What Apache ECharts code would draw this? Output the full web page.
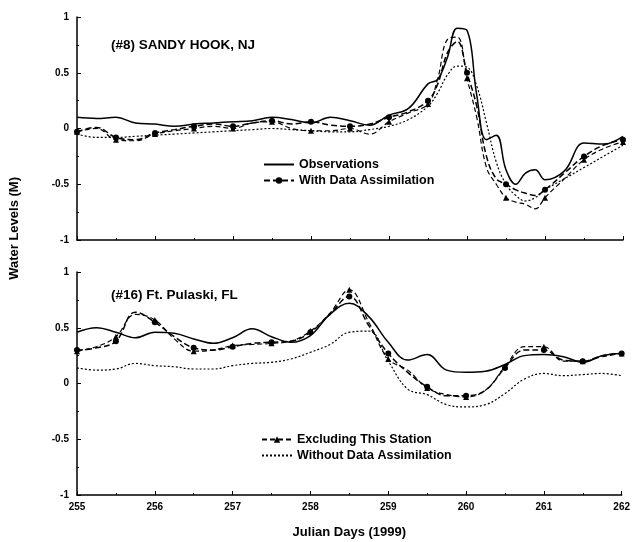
<!DOCTYPE html>
<html>
<head>
<meta charset="utf-8">
<script src="https://cdn.jsdelivr.net/npm/echarts@6/dist/echarts.min.js"></script>
<style>
  html, body { margin: 0; padding: 0; background: #fff; }
  #chart { width: 633px; height: 542px; }
</style>
</head>
<body>
<div id="chart"></div>
<script>
// top panel: Sandy Hook (denser sampling around the surge peak)
const topDays = [255, 255.25, 255.5, 255.75, 256, 256.25, 256.5, 256.75, 257, 257.25, 257.5, 257.75,
  258, 258.25, 258.5, 258.75, 259, 259.25, 259.5, 259.625, 259.75, 259.875, 260, 260.125, 260.25,
  260.375, 260.5, 260.625, 260.75, 260.875, 261, 261.25, 261.5, 261.75, 262];
const topObs = [0.10, 0.09, 0.10, 0.05, 0.04, 0.02, 0.04, 0.05, 0.06, 0.07, 0.10, 0.08,
  0.05, 0.10, 0.07, 0.03, 0.12, 0.18, 0.40, 0.44, 0.64, 0.90, 0.88, 0.30, -0.10,
  -0.06, -0.37, -0.50, -0.40, -0.37, -0.46, -0.38, -0.13, -0.14, -0.07];
const topWithDA = [-0.03, 0.01, -0.08, -0.10, -0.04, -0.01, 0.02, 0.04, 0.02, 0.05, 0.07, 0.04,
  0.06, 0.03, 0.02, 0.04, 0.10, 0.15, 0.25, 0.40, 0.68, 0.78, 0.50, 0.20, -0.25,
  -0.45, -0.50, -0.55, -0.58, -0.60, -0.55, -0.40, -0.25, -0.15, -0.10];
const topExcl = [-0.03, 0.00, -0.10, -0.11, -0.05, -0.02, 0.00, 0.02, 0.00, 0.05, 0.06, 0.00,
  -0.02, -0.02, 0.00, -0.05, 0.06, 0.14, 0.22, 0.45, 0.80, 0.82, 0.45, 0.10, -0.35,
  -0.50, -0.62, -0.66, -0.68, -0.72, -0.62, -0.45, -0.28, -0.18, -0.12];
const topNoDA = [-0.05, -0.08, -0.08, -0.07, -0.06, -0.05, -0.04, -0.03, -0.02, -0.01, 0.00, -0.01,
  -0.02, -0.03, -0.03, -0.01, 0.02, 0.08, 0.20, 0.32, 0.48, 0.56, 0.55, 0.38, 0.05,
  -0.30, -0.50, -0.60, -0.65, -0.62, -0.55, -0.45, -0.35, -0.25, -0.15];

// bottom panel: Ft. Pulaski
const botDays = [255, 255.25, 255.5, 255.75, 256, 256.25, 256.5, 256.75, 257, 257.25, 257.5, 257.75,
  258, 258.25, 258.5, 258.75, 259, 259.25, 259.5, 259.75, 260, 260.25, 260.5, 260.75,
  261, 261.25, 261.5, 261.75, 262];
const botObs = [0.46, 0.50, 0.46, 0.41, 0.46, 0.45, 0.40, 0.36, 0.41, 0.49, 0.42, 0.37,
  0.43, 0.62, 0.72, 0.60, 0.37, 0.21, 0.26, 0.12, 0.10, 0.11, 0.17, 0.25,
  0.26, 0.24, 0.19, 0.25, 0.27];
const botWithDA = [0.30, 0.32, 0.38, 0.64, 0.55, 0.42, 0.32, 0.30, 0.33, 0.36, 0.37, 0.38,
  0.46, 0.62, 0.78, 0.52, 0.27, 0.10, -0.03, -0.11, -0.11, -0.06, 0.14, 0.30,
  0.30, 0.21, 0.20, 0.25, 0.27];
const botExcl = [0.29, 0.33, 0.42, 0.62, 0.57, 0.40, 0.29, 0.30, 0.34, 0.35, 0.36, 0.38,
  0.47, 0.63, 0.84, 0.55, 0.22, 0.12, -0.04, -0.10, -0.12, -0.06, 0.15, 0.33,
  0.33, 0.20, 0.20, 0.24, 0.27];
const botNoDA = [0.14, 0.12, 0.13, 0.18, 0.16, 0.15, 0.13, 0.13, 0.16, 0.18, 0.19, 0.22,
  0.28, 0.35, 0.46, 0.47, 0.20, -0.05, -0.10, -0.19, -0.21, -0.19, -0.09, 0.04,
  0.09, 0.07, 0.08, 0.09, 0.07];

const yTicks = [-1, -0.5, 0, 0.5, 1];

const FONT = 'Liberation Sans';
const pairs = (days, vals) => days.map((d, i) => [d, vals[i]]);
// markers every half day
const markSize = (v) => ((v[0] * 2) % 1 === 0 ? 6 : 0);

function xAxisFor(grid, labels) {
  return {
    type: 'value', gridIndex: grid, min: 255, max: 262, interval: 1,
    name: labels ? 'Julian Days (1999)' : '', nameLocation: 'middle', nameGap: 31,
    nameTextStyle: { fontFamily: FONT, fontWeight: 'bold', fontSize: 13, color: '#000' },
    axisLine: { onZero: false, lineStyle: { color: '#000', width: 1.5 } },
    axisTick: { inside: true, length: 4, lineStyle: { color: '#000' } },
    minorTick: { show: true, splitNumber: 2, length: 2, lineStyle: { color: '#000' } },
    axisLabel: { show: labels, color: '#000', fontFamily: FONT, fontWeight: 'bold', fontSize: 10, margin: 7 },
    splitLine: { show: false }
  };
}
function yAxisFor(grid) {
  return {
    type: 'value', gridIndex: grid, min: -1, max: 1, interval: 0.5,
    axisLine: { show: true, onZero: false, lineStyle: { color: '#000', width: 1.5 } },
    axisTick: { show: true, inside: true, length: 4, lineStyle: { color: '#000' } },
    minorTick: { show: true, splitNumber: 2, length: 2, lineStyle: { color: '#000' } },
    axisLabel: {
      color: '#000', fontFamily: FONT, fontWeight: 'bold', fontSize: 10, margin: 8,
      formatter: (v) => (yTicks.includes(v) ? String(v) : '')
    },
    splitLine: { show: false }
  };
}

function panelSeries(grid, days, obs, withDA, excl, noDA) {
  const base = { type: 'line', xAxisIndex: grid, yAxisIndex: grid, smooth: 0.4, animation: false };
  return [
    Object.assign({}, base, {
      name: 'Observations', data: pairs(days, obs), showSymbol: false, symbol: 'none',
      lineStyle: { color: '#000', width: 1.5, type: 'solid' }, itemStyle: { color: '#000' }, z: 4
    }),
    Object.assign({}, base, {
      name: 'With Data Assimilation', data: pairs(days, withDA), symbol: 'circle', symbolSize: markSize,
      lineStyle: { color: '#000', width: 1.5, type: [6, 3] }, itemStyle: { color: '#000' }, z: 3
    }),
    Object.assign({}, base, {
      name: 'Excluding This Station', data: pairs(days, excl), symbol: 'triangle', symbolSize: markSize,
      lineStyle: { color: '#000', width: 1.2, type: [5, 3] }, itemStyle: { color: '#000' }, z: 2
    }),
    Object.assign({}, base, {
      name: 'Without Data Assimilation', data: pairs(days, noDA), showSymbol: false, symbol: 'none',
      lineStyle: { color: '#000', width: 1.2, type: [2, 2] }, itemStyle: { color: '#000' }, z: 1
    })
  ];
}

const legendText = { fontFamily: FONT, fontWeight: 'bold', fontSize: 12.5, color: '#000' };
const noMark = { opacity: 0 };

const chart = echarts.init(document.getElementById('chart'));
chart.setOption({
  backgroundColor: '#fff',
  animation: false,
  title: [
    { text: '(#8) SANDY HOOK, NJ', left: 106, top: 33,
      textStyle: { fontFamily: FONT, fontWeight: 'bold', fontSize: 13.5, color: '#000' } },
    { text: '(#16) Ft. Pulaski, FL', left: 106, top: 283,
      textStyle: { fontFamily: FONT, fontWeight: 'bold', fontSize: 13.5, color: '#000' } }
  ],
  legend: [
    { data: [{ name: 'Observations', itemStyle: noMark }, 'With Data Assimilation'],
      orient: 'vertical', left: 258, top: 153,
      itemWidth: 30, itemHeight: 8, itemGap: 3, textStyle: legendText, selectedMode: false },
    { data: ['Excluding This Station', { name: 'Without Data Assimilation', itemStyle: noMark }],
      orient: 'vertical', left: 256, top: 428,
      itemWidth: 30, itemHeight: 8, itemGap: 3, textStyle: legendText, selectedMode: false }
  ],
  graphic: [
    { type: 'text', left: 8, top: 177, rotation: Math.PI / 2,
      style: { text: 'Water Levels (M)', fontFamily: FONT, fontWeight: 'bold', fontSize: 13, fill: '#000' } }
  ],
  grid: [
    { left: 77, top: 17, width: 546, height: 223 },
    { left: 77, top: 272, width: 546, height: 223 }
  ],
  xAxis: [xAxisFor(0, false), xAxisFor(1, true)],
  yAxis: [yAxisFor(0), yAxisFor(1)],
  series: panelSeries(0, topDays, topObs, topWithDA, topExcl, topNoDA)
    .concat(panelSeries(1, botDays, botObs, botWithDA, botExcl, botNoDA))
});
</script>
</body>
</html>
